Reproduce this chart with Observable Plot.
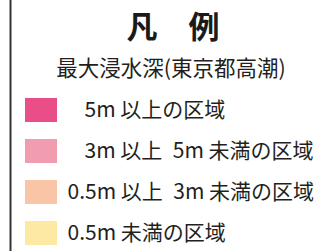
<!DOCTYPE html>
<html>
<head>
<meta charset="utf-8">
<script src="https://cdn.jsdelivr.net/npm/d3@7"></script>
<script src="https://cdn.jsdelivr.net/npm/@observablehq/plot@0.6"></script>
<style>
  html, body { margin: 0; padding: 0; background: #fff; }
</style>
</head>
<body>
<div id="chart"></div>
<script>
const title = "凡\u3000例";
const subtitle = "最大浸水深(東京都高潮)";
const categories = [
  "5m 以上の区域",
  "3m 以上\u20025m 未満の区域",
  "0.5m 以上\u20023m 未満の区域",
  "0.5m 未満の区域"
];
const shortPrefix = [true, true, false, false];
const colors = ["#ea4e88", "#f29cb0", "#f8c6a6", "#fde9a4"];

const rows = categories.map((c, i) => ({label: c, color: colors[i], indent: shortPrefix[i]}));

const chart = Plot.plot({
  width: 319,
  height: 251,
  margin: 0,
  style: {fontFamily: "'Noto Sans CJK JP', 'Noto Sans', sans-serif", background: "#fff", color: "#231f20"},
  x: {type: "band", domain: ["swatch"], range: [25, 57], padding: 0, axis: null},
  y: {type: "band", domain: categories, range: [89.5, 253.5], paddingInner: 0.41, paddingOuter: 0.205, axis: null},
  color: {type: "identity"},
  marks: [
    Plot.frame({anchor: "left", dx: 10, stroke: "#333", strokeWidth: 2}),
    Plot.text([title], {frameAnchor: "top", lineAnchor: "middle", dx: 13, dy: 28, fontSize: 31, fontWeight: "bold", fill: "#1a1a1a"}),
    Plot.text([subtitle], {frameAnchor: "top", lineAnchor: "middle", dx: 11, dy: 69, fontSize: 21.5, fill: "#231f20"}),
    Plot.cell(rows, {x: () => "swatch", y: "label", fill: "color"}),
    Plot.text(rows.filter(d => d.indent), {y: "label", text: "label", frameAnchor: "left", dx: 84, textAnchor: "start", fontSize: 21, fill: "#231f20"}),
    Plot.text(rows.filter(d => !d.indent), {y: "label", text: "label", frameAnchor: "left", dx: 67, textAnchor: "start", fontSize: 21, fill: "#231f20"})
  ]
});
document.getElementById("chart").appendChild(chart);
</script>
</body>
</html>
